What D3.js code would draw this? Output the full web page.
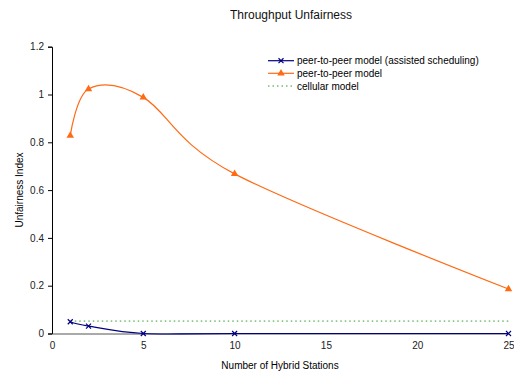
<!DOCTYPE html>
<html>
<head>
<meta charset="utf-8">
<script src="https://cdn.jsdelivr.net/npm/d3@7"></script>
<style>
  html, body { margin: 0; padding: 0; background: #fff; }
  svg { display: block; font-family: "Liberation Sans", Arial, sans-serif; }
</style>
</head>
<body>
<svg id="chart" width="514" height="373"></svg>
<script>
// Number of hybrid stations on the x axis
const stations = [1, 2, 5, 10, 25];
// Unfairness index for each model
const assistedValues = [0.049, 0.031, 0.0, 0.0, 0.0];
const p2pValues = [0.828, 1.023, 0.988, 0.668, 0.186];
const cellularValues = [0.052, 0.052, 0.052, 0.052, 0.052];
const xTicks = [0, 5, 10, 15, 20, 25];
const yTicks = [0, 0.2, 0.4, 0.6, 0.8, 1, 1.2];
const seriesNames = ["peer-to-peer model (assisted scheduling)", "peer-to-peer model", "cellular model"];

const svg = d3.select("#chart");
const x = d3.scaleLinear().domain([0, 25]).range([52, 508.5]);
const y = d3.scaleLinear().domain([0, 1.2]).range([333.5, 46.7]);

// Title
svg.append("text").attr("x", 291).attr("y", 18.5).attr("text-anchor", "middle")
  .attr("font-size", 12).attr("fill", "#111").text("Throughput Unfairness");

// Y axis
const yAxis = svg.append("g").attr("transform", "translate(52,0)")
  .call(d3.axisLeft(y).tickValues(yTicks).tickSize(4).tickPadding(4)
    .tickFormat(d => d3.format("~g")(d)));
yAxis.select(".domain").attr("stroke", "#000");
yAxis.selectAll(".tick line").attr("stroke", "#000");
yAxis.selectAll("text").attr("font-size", 10).attr("fill", "#222")
  .style("font-family", "Liberation Sans, Arial, sans-serif");

// X axis
const xAxis = svg.append("g").attr("transform", "translate(0,333.5)")
  .call(d3.axisBottom(x).tickValues(xTicks).tickSize(0).tickPadding(8));
xAxis.select(".domain").attr("stroke", "#555");
xAxis.selectAll("text").attr("font-size", 10).attr("fill", "#222")
  .style("font-family", "Liberation Sans, Arial, sans-serif");

// Axis titles
svg.append("text").attr("x", 280).attr("y", 369).attr("text-anchor", "middle")
  .attr("font-size", 10).attr("fill", "#000").text("Number of Hybrid Stations");
svg.append("text").attr("transform", "translate(23,190) rotate(-90)")
  .attr("text-anchor", "middle").attr("font-size", 10).attr("fill", "#000")
  .text("Unfairness Index");

const smooth = d3.line().curve(d3.curveCardinal.tension(0))
  .x((d, i) => x(stations[i])).y(d => y(d));
const straight = d3.line().x((d, i) => x(stations[i])).y(d => y(d));

// Cellular model (dotted)
svg.append("path").attr("d", straight(cellularValues)).attr("fill", "none")
  .attr("stroke", "#2e9a2e").attr("stroke-width", 1).attr("stroke-dasharray", "1.5,3");

// Peer-to-peer model
svg.append("path").attr("d", smooth(p2pValues)).attr("fill", "none")
  .attr("stroke", "#ff6a13").attr("stroke-width", 1.2);
const tri = d3.symbol().type(d3.symbolTriangle).size(24);
svg.selectAll(".p2p").data(p2pValues).join("path")
  .attr("transform", (d, i) => `translate(${x(stations[i])},${y(d)})`)
  .attr("d", tri).attr("fill", "#ff6a13");

// Peer-to-peer model (assisted scheduling)
svg.append("path").attr("d", smooth(assistedValues)).attr("fill", "none")
  .attr("stroke", "#000080").attr("stroke-width", 1.2);
const cross = d3.symbol().type(d3.symbolX).size(18);
svg.selectAll(".assisted").data(assistedValues).join("path")
  .attr("transform", (d, i) => `translate(${x(stations[i])},${y(d)})`)
  .attr("d", cross).attr("fill", "none").attr("stroke", "#000080").attr("stroke-width", 1.2);

// Legend
const legend = svg.append("g");
const rows = [60.7, 73.3, 86];
const colors = ["#000080", "#ff6a13", "#2e9a2e"];
seriesNames.forEach((name, i) => {
  const g = legend.append("g").attr("transform", `translate(0,${rows[i]})`);
  const ln = g.append("line").attr("x1", 268).attr("x2", 294).attr("y1", 0).attr("y2", 0)
    .attr("stroke", colors[i]).attr("stroke-width", 1.2);
  if (i === 2) ln.attr("stroke-dasharray", "1.5,3").attr("stroke-width", 1);
  if (i === 0) g.append("path").attr("transform", "translate(281,0)").attr("d", cross)
    .attr("fill", "none").attr("stroke", colors[i]).attr("stroke-width", 1.2);
  if (i === 1) g.append("path").attr("transform", "translate(281,0)").attr("d", tri)
    .attr("fill", colors[i]);
  g.append("text").attr("x", 297).attr("y", 3.5).attr("font-size", 10).attr("fill", "#000")
    .text(name);
});
</script>
</body>
</html>
